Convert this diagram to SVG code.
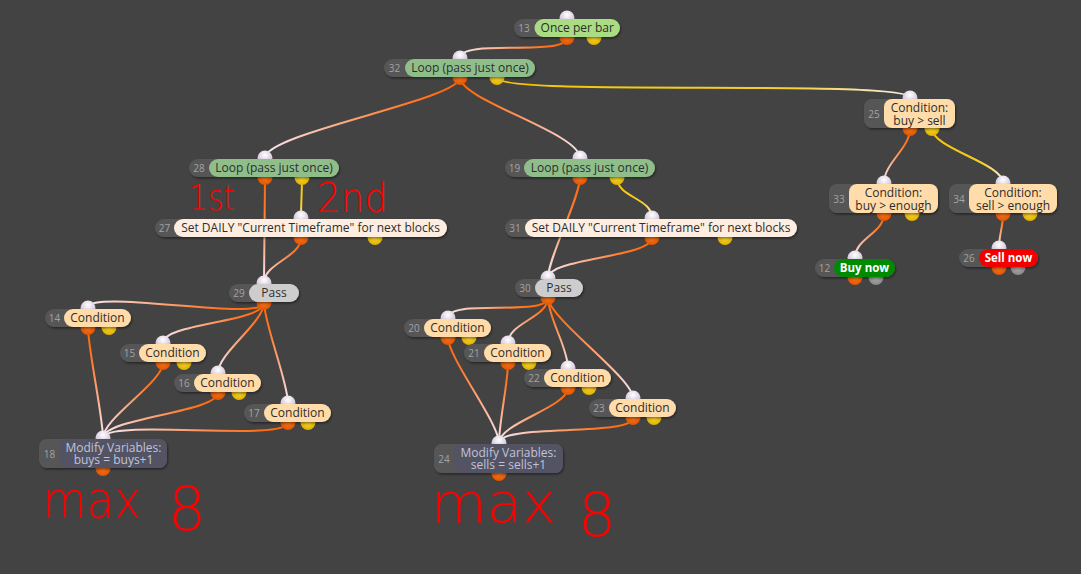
<svg xmlns="http://www.w3.org/2000/svg" width="1081" height="574" viewBox="0 0 1081 574">
<style>
.bg{fill:#434343}
.dk{fill:#575757;filter:url(#sh)}
.pi{fill:url(#gpi)}
.po{fill:url(#gpo)}
.py{fill:url(#gpy)}
.pg{fill:url(#gpg)}
.lgA{fill:#a9dc83}
.lgB{fill:#8fbe8b}
.lpe{fill:#ffdca9}
.lcr{fill:#fdeee1}
.lps{fill:#cdcdcd}
.lmv{fill:#535363}
.lbn{fill:#008a00}
.lsn{fill:#f20000}
.num{font-family:"Open Sans","DejaVu Sans",sans-serif;font-size:10px;fill:#a3a3a3;text-anchor:middle}
.lbl{font-family:"Open Sans","DejaVu Sans",sans-serif;font-size:12px;fill:#2d2d2d;text-anchor:middle}
.lmt{fill:#c0c4d8}
.lwb{fill:#ffffff;font-weight:bold;font-size:11.5px}
.con path{fill:none;stroke-width:2}
.hw{font-family:"DejaVu Sans","Liberation Sans",sans-serif;font-weight:200;fill:#ff0000}
</style>
<defs>
<filter id="sh" x="-10%" y="-30%" width="120%" height="180%"><feDropShadow dx="1" dy="1.5" stdDeviation="1" flood-color="#000" flood-opacity="0.45"/></filter>
<radialGradient id="gpi" cx="0.5" cy="0.3" r="0.65"><stop offset="0" stop-color="#ffffff"/><stop offset="1" stop-color="#c9b8d2"/></radialGradient>
<radialGradient id="gpo" cx="0.5" cy="0.45" r="0.6"><stop offset="0" stop-color="#ff7a20"/><stop offset="1" stop-color="#dd5200"/></radialGradient>
<radialGradient id="gpy" cx="0.5" cy="0.45" r="0.6"><stop offset="0" stop-color="#ffdc30"/><stop offset="1" stop-color="#dcae00"/></radialGradient>
<radialGradient id="gpg" cx="0.5" cy="0.45" r="0.6"><stop offset="0" stop-color="#b0b0b0"/><stop offset="1" stop-color="#858585"/></radialGradient>
<linearGradient id="go"><stop offset="0" stop-color="#ff6400"/><stop offset="0.3" stop-color="#ff7a2c"/><stop offset="1" stop-color="#f6e8f4"/></linearGradient>
<linearGradient id="gy"><stop offset="0" stop-color="#f5c400"/><stop offset="0.7" stop-color="#f6cf30"/><stop offset="1" stop-color="#f6ecf2"/></linearGradient>
<linearGradient id="c1" href="#go" gradientUnits="userSpaceOnUse" x1="567" y1="37.5" x2="460" y2="58"/>
<linearGradient id="c2" href="#go" gradientUnits="userSpaceOnUse" x1="460" y1="77.5" x2="265" y2="158"/>
<linearGradient id="c3" href="#go" gradientUnits="userSpaceOnUse" x1="460" y1="77.5" x2="580" y2="158"/>
<linearGradient id="c4" href="#gy" gradientUnits="userSpaceOnUse" x1="497" y1="77.5" x2="910" y2="98"/>
<linearGradient id="c5" href="#go" gradientUnits="userSpaceOnUse" x1="265" y1="177.5" x2="264" y2="283"/>
<linearGradient id="c6" href="#gy" gradientUnits="userSpaceOnUse" x1="302" y1="177.5" x2="301" y2="218"/>
<linearGradient id="c7" href="#go" gradientUnits="userSpaceOnUse" x1="301" y1="237.5" x2="264" y2="283"/>
<linearGradient id="c8" href="#go" gradientUnits="userSpaceOnUse" x1="580" y1="177.5" x2="548" y2="278"/>
<linearGradient id="c9" href="#gy" gradientUnits="userSpaceOnUse" x1="617" y1="177.5" x2="652" y2="218"/>
<linearGradient id="c10" href="#go" gradientUnits="userSpaceOnUse" x1="652" y1="237.5" x2="548" y2="278"/>
<linearGradient id="c11" href="#go" gradientUnits="userSpaceOnUse" x1="910" y1="128.5" x2="884" y2="183"/>
<linearGradient id="c12" href="#gy" gradientUnits="userSpaceOnUse" x1="932" y1="128.5" x2="1003" y2="183"/>
<linearGradient id="c13" href="#go" gradientUnits="userSpaceOnUse" x1="884" y1="213.5" x2="855" y2="258"/>
<linearGradient id="c14" href="#go" gradientUnits="userSpaceOnUse" x1="1003" y1="213.5" x2="999" y2="248"/>
<linearGradient id="c15" href="#go" gradientUnits="userSpaceOnUse" x1="264" y1="302.5" x2="88" y2="308"/>
<linearGradient id="c16" href="#go" gradientUnits="userSpaceOnUse" x1="264" y1="302.5" x2="163" y2="343"/>
<linearGradient id="c17" href="#go" gradientUnits="userSpaceOnUse" x1="264" y1="302.5" x2="218" y2="373"/>
<linearGradient id="c18" href="#go" gradientUnits="userSpaceOnUse" x1="264" y1="302.5" x2="288" y2="403"/>
<linearGradient id="c19" href="#go" gradientUnits="userSpaceOnUse" x1="88" y1="327.5" x2="103" y2="438"/>
<linearGradient id="c20" href="#go" gradientUnits="userSpaceOnUse" x1="163" y1="362.5" x2="103" y2="438"/>
<linearGradient id="c21" href="#go" gradientUnits="userSpaceOnUse" x1="218" y1="392.5" x2="103" y2="438"/>
<linearGradient id="c22" href="#go" gradientUnits="userSpaceOnUse" x1="288" y1="422.5" x2="103" y2="438"/>
<linearGradient id="c23" href="#go" gradientUnits="userSpaceOnUse" x1="548" y1="297.5" x2="448" y2="318"/>
<linearGradient id="c24" href="#go" gradientUnits="userSpaceOnUse" x1="548" y1="297.5" x2="508" y2="343"/>
<linearGradient id="c25" href="#go" gradientUnits="userSpaceOnUse" x1="548" y1="297.5" x2="568" y2="368"/>
<linearGradient id="c26" href="#go" gradientUnits="userSpaceOnUse" x1="548" y1="297.5" x2="633" y2="398"/>
<linearGradient id="c27" href="#go" gradientUnits="userSpaceOnUse" x1="448" y1="337.5" x2="499" y2="443"/>
<linearGradient id="c28" href="#go" gradientUnits="userSpaceOnUse" x1="508" y1="362.5" x2="499" y2="443"/>
<linearGradient id="c29" href="#go" gradientUnits="userSpaceOnUse" x1="568" y1="387.5" x2="499" y2="443"/>
<linearGradient id="c30" href="#go" gradientUnits="userSpaceOnUse" x1="633" y1="417.5" x2="499" y2="443"/>
</defs>
<rect class="bg" x="0" y="0" width="1081" height="574"/>

<g id="connectors" class="con">
<path stroke="url(#c1)" d="M567,37.5 C567,57.5 460,38 460,58"/>
<path stroke="url(#c2)" d="M460,77.5 C460,100 265,133 265,158"/>
<path stroke="url(#c3)" d="M460,77.5 C460,100 580,133 580,158"/>
<path stroke="url(#c4)" d="M497,77.5 C497,97.5 910,78 910,98"/>
<path stroke="url(#c5)" d="M265,177.5 C265,200 264,260 264,283"/>
<path stroke="url(#c6)" d="M302,177.5 C302,190 301,205 301,218"/>
<path stroke="url(#c7)" d="M301,237.5 C301,257.5 264,263 264,283"/>
<path stroke="url(#c8)" d="M580,177.5 C580,197.5 548,258 548,278"/>
<path stroke="url(#c9)" d="M617,177.5 C617,197.5 652,198 652,218"/>
<path stroke="url(#c10)" d="M652,237.5 C652,257.5 548,258 548,278"/>
<path stroke="url(#c11)" d="M910,128.5 C910,148.5 884,163 884,183"/>
<path stroke="url(#c12)" d="M932,128.5 C932,148.5 1003,163 1003,183"/>
<path stroke="url(#c13)" d="M884,213.5 C884,233.5 855,238 855,258"/>
<path stroke="url(#c14)" d="M1003,213.5 C1003,228 999,234 999,248"/>
<path stroke="url(#c15)" d="M264,302.5 C264,322.5 88,288 88,308"/>
<path stroke="url(#c16)" d="M264,302.5 C264,322.5 163,323 163,343"/>
<path stroke="url(#c17)" d="M264,302.5 C264,322.5 218,353 218,373"/>
<path stroke="url(#c18)" d="M264,302.5 C264,322.5 288,383 288,403"/>
<path stroke="url(#c19)" d="M88,327.5 C88,347.5 103,418 103,438"/>
<path stroke="url(#c20)" d="M163,362.5 C163,382.5 103,418 103,438"/>
<path stroke="url(#c21)" d="M218,392.5 C218,412.5 103,418 103,438"/>
<path stroke="url(#c22)" d="M288,422.5 C288,442.5 103,418 103,438"/>
<path stroke="url(#c23)" d="M548,297.5 C548,317.5 448,298 448,318"/>
<path stroke="url(#c24)" d="M548,297.5 C548,317.5 508,323 508,343"/>
<path stroke="url(#c25)" d="M548,297.5 C548,317.5 568,348 568,368"/>
<path stroke="url(#c26)" d="M548,297.5 C548,317.5 633,378 633,398"/>
<path stroke="url(#c27)" d="M448,337.5 C448,357.5 499,423 499,443"/>
<path stroke="url(#c28)" d="M508,362.5 C508,382.5 499,423 499,443"/>
<path stroke="url(#c29)" d="M568,387.5 C568,407.5 499,423 499,443"/>
<path stroke="url(#c30)" d="M633,417.5 C633,437.5 499,423 499,443"/>
</g>

<g id="n13"><circle class="pi" cx="567" cy="18" r="7.5"/><circle class="po" cx="567" cy="37.5" r="7.5"/><circle class="py" cx="594" cy="37.5" r="7.5"/>
<rect class="dk" x="514" y="19" width="106" height="18" rx="9"/><rect class="lgA" x="534.5" y="19" width="85.5" height="18" rx="9"/>
<text class="num" x="524" y="31.8">13</text><text class="lbl" x="577.25" y="32.3">Once per bar</text></g>

<g id="n32"><circle class="pi" cx="460" cy="58" r="7.5"/><circle class="po" cx="460" cy="77.5" r="7.5"/><circle class="py" cx="497" cy="77.5" r="7.5"/>
<rect class="dk" x="384" y="59" width="151" height="18" rx="9"/><rect class="lgB" x="405" y="59" width="130" height="18" rx="9"/>
<text class="num" x="394.5" y="71.8">32</text><text class="lbl" x="470" y="72.3">Loop (pass just once)</text></g>

<g id="n28"><circle class="pi" cx="265" cy="158" r="7.5"/><circle class="po" cx="265" cy="177.5" r="7.5"/><circle class="py" cx="302" cy="177.5" r="7.5"/>
<rect class="dk" x="189" y="159" width="150" height="18" rx="9"/><rect class="lgB" x="209" y="159" width="130" height="18" rx="9"/>
<text class="num" x="199" y="171.8">28</text><text class="lbl" x="274" y="172.3">Loop (pass just once)</text></g>

<g id="n19"><circle class="pi" cx="580" cy="158" r="7.5"/><circle class="po" cx="580" cy="177.5" r="7.5"/><circle class="py" cx="617" cy="177.5" r="7.5"/>
<rect class="dk" x="505" y="159" width="150" height="18" rx="9"/><rect class="lgB" x="524" y="159" width="131" height="18" rx="9"/>
<text class="num" x="514.5" y="171.8">19</text><text class="lbl" x="589.5" y="172.3">Loop (pass just once)</text></g>

<g id="n27"><circle class="pi" cx="301" cy="218" r="7.5"/><circle class="po" cx="301" cy="237.5" r="7.5"/><circle class="py" cx="375" cy="237.5" r="7.5"/>
<rect class="dk" x="155" y="219" width="292" height="18" rx="9"/><rect class="lcr" x="174" y="219" width="273" height="18" rx="9"/>
<text class="num" x="164.5" y="231.8">27</text><text class="lbl" x="310.5" y="232.3">Set DAILY "Current Timeframe" for next blocks</text></g>

<g id="n31"><circle class="pi" cx="652" cy="218" r="7.5"/><circle class="po" cx="652" cy="237.5" r="7.5"/><circle class="py" cx="725" cy="237.5" r="7.5"/>
<rect class="dk" x="505" y="219" width="292" height="18" rx="9"/><rect class="lcr" x="525" y="219" width="272" height="18" rx="9"/>
<text class="num" x="515" y="231.8">31</text><text class="lbl" x="661" y="232.3">Set DAILY "Current Timeframe" for next blocks</text></g>

<g id="n29"><circle class="pi" cx="264" cy="283" r="7.5"/><circle class="po" cx="264" cy="302.5" r="7.5"/>
<rect class="dk" x="229" y="284" width="70" height="18" rx="9"/><rect class="lps" x="249" y="284" width="50" height="18" rx="9"/>
<text class="num" x="239" y="296.8">29</text><text class="lbl" x="274" y="297.3">Pass</text></g>

<g id="n30"><circle class="pi" cx="548" cy="278" r="7.5"/><circle class="po" cx="548" cy="297.5" r="7.5"/>
<rect class="dk" x="515" y="279" width="68" height="18" rx="9"/><rect class="lps" x="535" y="279" width="48" height="18" rx="9"/>
<text class="num" x="525" y="291.8">30</text><text class="lbl" x="559" y="292.3">Pass</text></g>

<g id="n25"><circle class="pi" cx="910" cy="98" r="7.5"/><circle class="po" cx="910" cy="128.5" r="7.5"/><circle class="py" cx="932" cy="128.5" r="7.5"/>
<rect class="dk" x="864" y="99" width="91" height="29" rx="8"/><rect class="lpe" x="884" y="99" width="71" height="29" rx="8"/>
<text class="num" x="874" y="117.5">25</text><text class="lbl" x="919.5" y="112.3">Condition:</text><text class="lbl" x="919.5" y="124.5">buy &gt; sell</text></g>

<g id="n33"><circle class="pi" cx="884" cy="183" r="7.5"/><circle class="po" cx="884" cy="213.5" r="7.5"/><circle class="py" cx="912" cy="213.5" r="7.5"/>
<rect class="dk" x="829" y="184" width="109" height="29" rx="8"/><rect class="lpe" x="849" y="184" width="89" height="29" rx="8"/>
<text class="num" x="839" y="202.5">33</text><text class="lbl" x="893.5" y="197.3">Condition:</text><text class="lbl" x="893.5" y="209.5">buy &gt; enough</text></g>

<g id="n34"><circle class="pi" cx="1003" cy="183" r="7.5"/><circle class="po" cx="1003" cy="213.5" r="7.5"/><circle class="py" cx="1030" cy="213.5" r="7.5"/>
<rect class="dk" x="949" y="184" width="108" height="29" rx="8"/><rect class="lpe" x="969" y="184" width="88" height="29" rx="8"/>
<text class="num" x="959" y="202.5">34</text><text class="lbl" x="1013" y="197.3">Condition:</text><text class="lbl" x="1013" y="209.5">sell &gt; enough</text></g>

<g id="n12"><circle class="pi" cx="855" cy="258" r="7.5"/><circle class="po" cx="855" cy="277.5" r="7.5"/><circle class="pg" cx="876" cy="277.5" r="7.5"/>
<rect class="dk" x="815" y="259" width="80" height="18" rx="9"/><rect class="lbn" x="834" y="259" width="61" height="18" rx="9"/>
<text class="num" x="824.5" y="271.8">12</text><text class="lbl lwb" x="864.5" y="272.3">Buy now</text></g>

<g id="n26"><circle class="pi" cx="999" cy="248" r="7.5"/><circle class="po" cx="999" cy="267.5" r="7.5"/><circle class="pg" cx="1018" cy="267.5" r="7.5"/>
<rect class="dk" x="959" y="249" width="79" height="18" rx="9"/><rect class="lsn" x="979" y="249" width="59" height="18" rx="9"/>
<text class="num" x="969" y="261.8">26</text><text class="lbl lwb" x="1008.5" y="262.3">Sell now</text></g>

<g id="n14"><circle class="pi" cx="88" cy="308" r="7.5"/><circle class="po" cx="88" cy="327.5" r="7.5"/><circle class="py" cx="109" cy="327.5" r="7.5"/>
<rect class="dk" x="45" y="309" width="86" height="18" rx="9"/><rect class="lpe" x="64" y="309" width="67" height="18" rx="9"/>
<text class="num" x="54.5" y="321.8">14</text><text class="lbl" x="97.5" y="322.3">Condition</text></g>

<g id="n15"><circle class="pi" cx="163" cy="343" r="7.5"/><circle class="po" cx="163" cy="362.5" r="7.5"/><circle class="py" cx="184" cy="362.5" r="7.5"/>
<rect class="dk" x="120" y="344" width="86" height="18" rx="9"/><rect class="lpe" x="139" y="344" width="67" height="18" rx="9"/>
<text class="num" x="129.5" y="356.8">15</text><text class="lbl" x="172.5" y="357.3">Condition</text></g>

<g id="n16"><circle class="pi" cx="218" cy="373" r="7.5"/><circle class="po" cx="218" cy="392.5" r="7.5"/><circle class="py" cx="239" cy="392.5" r="7.5"/>
<rect class="dk" x="174" y="374" width="87" height="18" rx="9"/><rect class="lpe" x="194" y="374" width="67" height="18" rx="9"/>
<text class="num" x="184" y="386.8">16</text><text class="lbl" x="227.5" y="387.3">Condition</text></g>

<g id="n17"><circle class="pi" cx="288" cy="403" r="7.5"/><circle class="po" cx="288" cy="422.5" r="7.5"/><circle class="py" cx="308" cy="422.5" r="7.5"/>
<rect class="dk" x="244" y="404" width="87" height="18" rx="9"/><rect class="lpe" x="264" y="404" width="67" height="18" rx="9"/>
<text class="num" x="254" y="416.8">17</text><text class="lbl" x="297.5" y="417.3">Condition</text></g>

<g id="n18"><circle class="pi" cx="103" cy="438" r="7.5"/><circle class="po" cx="103" cy="468.5" r="7.5"/>
<rect class="dk" x="39" y="439" width="128" height="29" rx="8"/><rect class="lmv" x="60" y="439" width="107" height="29" rx="8"/>
<text class="num" x="49.5" y="457.5">18</text><text class="lbl lmt" x="113.5" y="451.6">Modify Variables:</text><text class="lbl lmt" x="113.5" y="463.7">buys = buys+1</text></g>

<g id="n20"><circle class="pi" cx="448" cy="318" r="7.5"/><circle class="po" cx="448" cy="337.5" r="7.5"/><circle class="py" cx="469" cy="337.5" r="7.5"/>
<rect class="dk" x="404" y="319" width="87" height="18" rx="9"/><rect class="lpe" x="424" y="319" width="67" height="18" rx="9"/>
<text class="num" x="414" y="331.8">20</text><text class="lbl" x="457.5" y="332.3">Condition</text></g>

<g id="n21"><circle class="pi" cx="508" cy="343" r="7.5"/><circle class="po" cx="508" cy="362.5" r="7.5"/><circle class="py" cx="529" cy="362.5" r="7.5"/>
<rect class="dk" x="464" y="344" width="87" height="18" rx="9"/><rect class="lpe" x="484" y="344" width="67" height="18" rx="9"/>
<text class="num" x="474" y="356.8">21</text><text class="lbl" x="517.5" y="357.3">Condition</text></g>

<g id="n22"><circle class="pi" cx="568" cy="368" r="7.5"/><circle class="po" cx="568" cy="387.5" r="7.5"/><circle class="py" cx="589" cy="387.5" r="7.5"/>
<rect class="dk" x="524" y="369" width="87" height="18" rx="9"/><rect class="lpe" x="544" y="369" width="67" height="18" rx="9"/>
<text class="num" x="534" y="381.8">22</text><text class="lbl" x="577.5" y="382.3">Condition</text></g>

<g id="n23"><circle class="pi" cx="633" cy="398" r="7.5"/><circle class="po" cx="633" cy="417.5" r="7.5"/><circle class="py" cx="654" cy="417.5" r="7.5"/>
<rect class="dk" x="589" y="399" width="87" height="18" rx="9"/><rect class="lpe" x="609" y="399" width="67" height="18" rx="9"/>
<text class="num" x="599" y="411.8">23</text><text class="lbl" x="642.5" y="412.3">Condition</text></g>

<g id="n24"><circle class="pi" cx="499" cy="443" r="7.5"/><circle class="po" cx="499" cy="473.5" r="7.5"/>
<rect class="dk" x="434" y="444" width="129" height="29" rx="8"/><rect class="lmv" x="454" y="444" width="109" height="29" rx="8"/>
<text class="num" x="444" y="462.5">24</text><text class="lbl lmt" x="508.5" y="456.6">Modify Variables:</text><text class="lbl lmt" x="508.5" y="468.7">sells = sells+1</text></g>

<g id="annotations">
<text class="hw" x="189" y="210" font-size="36" textLength="46" lengthAdjust="spacingAndGlyphs">1st</text>
<text class="hw" x="317" y="212" font-size="40" textLength="71" lengthAdjust="spacingAndGlyphs">2nd</text>
<text class="hw" y="518" font-size="52"><tspan x="43" textLength="98" lengthAdjust="spacingAndGlyphs">max</tspan><tspan x="168" y="530" font-size="60">8</tspan></text>
<text class="hw" y="522" font-size="56"><tspan x="431" textLength="125" lengthAdjust="spacingAndGlyphs">max</tspan><tspan x="578" y="536" font-size="60">8</tspan></text>
</g>
</svg>
